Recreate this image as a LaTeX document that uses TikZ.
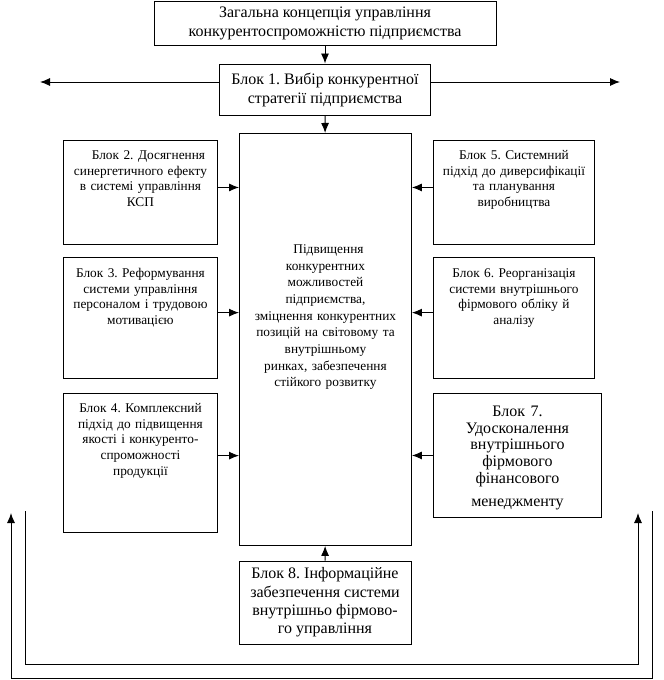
\documentclass[tikz,border=0pt]{standalone}
\usepackage{fontspec}
\setmainfont{Liberation Serif}
\usetikzlibrary{arrows.meta}
\frenchspacing

\begin{document}
\begin{tikzpicture}[
    x=0.75pt, y=-0.75pt,
    box/.style={draw,line width=0.7pt,inner xsep=2pt,inner ysep=0pt,align=center},
    big/.style={box,font=\fontsize{12}{14.25}\selectfont},
    side/.style={box,anchor=north west,font=\fontsize{10}{11.75}\selectfont},
    arr/.style={line width=0.7pt,-{Latex[length=7.5pt,width=6pt]}}
]
\useasboundingbox (0,0) rectangle (663,680);

\node[big,minimum width=256.5pt,minimum height=33pt] (top) at (325,23)
  {Загальна концепція управління\\конкурентоспроможністю підприємства};
\node[big,minimum width=158.25pt,minimum height=38.25pt] (b1) at (325,89.5)
  {Блок 1. Вибір конкурентної\\стратегії підприємства};

\node[box,anchor=north west,font=\fontsize{10}{12.5}\selectfont,
      text width=125pt,text height=90pt,text depth=219pt] (mid) at (239,133)
  {\hspace*{0.45em}Підвищення\\конкурентних\\можливостей\\підприємства,\\зміцнення конкурентних\\позицій на світовому та\\внутрішньому\\ринках, забезпечення\\стійкого розвитку};

\node[side,text width=111.5pt,text height=14.25pt,text depth=63.75pt] (b2) at (63,140)
  {\hspace*{1.2em}Блок 2. Досягнення\\синергетичного ефекту\\в системі управління\\КСП};
\node[side,text width=111.5pt,text height=15pt,text depth=75.75pt] (b3) at (63,257)
  {Блок 3. Реформування\\системи управління\\персоналом і трудовою\\мотивацією};
\node[side,text width=111.5pt,text height=14.25pt,text depth=90pt] (b4) at (63,393)
  {Блок 4. Комплексний\\підхід до підвищення\\якості і конкуренто-\\спроможності\\продукції};
\node[side,text width=116.75pt,text height=14.25pt,text depth=63.75pt] (b5) at (433,140)
  {Блок 5. Системний\\підхід до диверсифікації\\та планування\\виробництва};
\node[side,text width=116.75pt,text height=15pt,text depth=75.75pt] (b6) at (433,257)
  {Блок 6. Реорганізація\\системи внутрішнього\\фірмового обліку й\\аналізу};
\node[side,font=\fontsize{12}{12.5}\selectfont,
      text width=122pt,text height=17.25pt,text depth=75.75pt] (b7) at (433,393)
  {Блок 7.\\Удосконалення\\внутрішнього\\фірмового\\фінансового\\[5pt]менеджменту};

\node[box,minimum width=129pt,minimum height=62.25pt,font=\fontsize{12}{13.75}\selectfont]
  (b8) at (325,602.5)
  {Блок 8. Інформаційне\\забезпечення системи\\внутрішньо фірмово-\\го управління};

\coordinate (lftend) at (40,82);
\coordinate (rgtend) at (620,82);
\coordinate (o1)   at (652,511);
\coordinate (obot) at (11,678);
\coordinate (o2)   at (11,513);
\coordinate (i1)   at (25,511);
\coordinate (ibot) at (638,664);
\coordinate (i2)   at (638,513);

\draw[arr] (top) -- (b1);
\draw[arr] (b1) -- (mid);
\draw[arr] (b8) -- (mid);
\draw[arr] (b1.west |- lftend) -- (lftend);
\draw[arr] (b1.east |- rgtend) -- (rgtend);

\draw[arr] ([yshift=3.75pt]b2.east) -- ([yshift=3.75pt]b2.east -| mid.west);
\draw[arr] ([yshift=4pt]b3.east) -- ([yshift=4pt]b3.east -| mid.west);
\draw[arr] ([yshift=5.5pt]b4.east) -- ([yshift=5.5pt]b4.east -| mid.west);
\draw[arr] ([yshift=3.75pt]b5.west) -- ([yshift=3.75pt]b5.west -| mid.east);
\draw[arr] ([yshift=4pt]b6.west) -- ([yshift=4pt]b6.west -| mid.east);
\draw[arr] (b7.west) -- (b7.west -| mid.east);

\draw[arr] (o1) |- (obot) -- (o2);
\draw[arr] (i1) |- (ibot) -- (i2);
\end{tikzpicture}
\end{document}
